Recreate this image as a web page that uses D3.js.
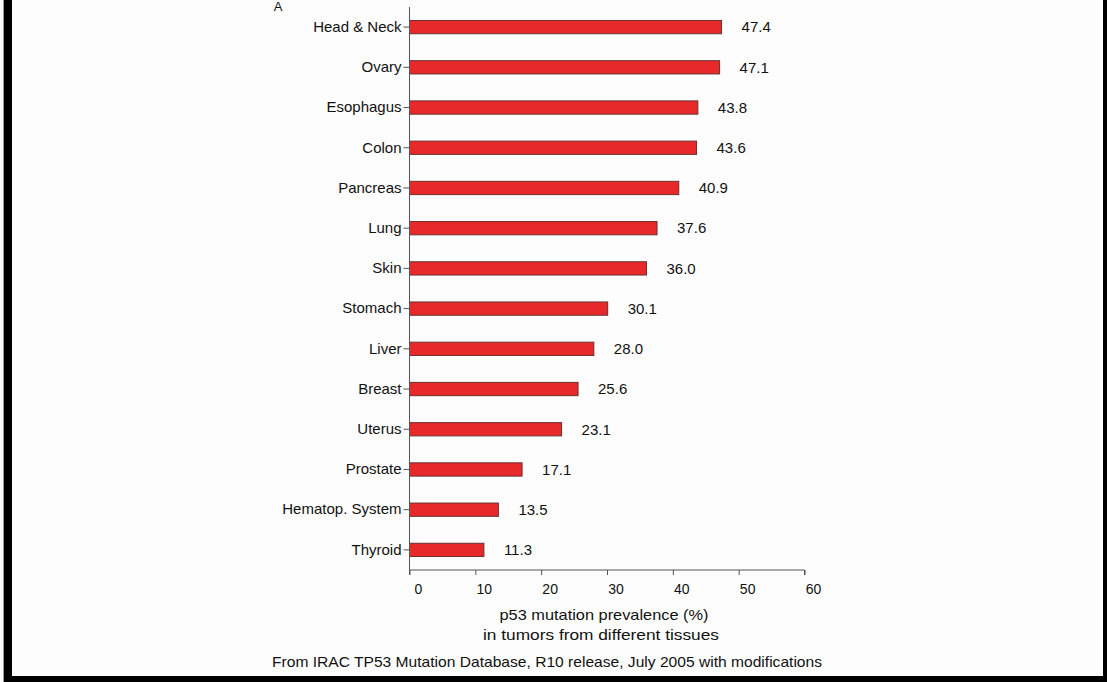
<!DOCTYPE html>
<html><head><meta charset="utf-8">
<script src="https://cdn.jsdelivr.net/npm/d3@7"></script>
<style>
html,body{margin:0;padding:0;background:#fff;}
svg{display:block;}
text{font-family:"Liberation Sans",Arial,sans-serif;fill:#111;}
</style></head>
<body>
<svg id="chart" width="1107" height="682"></svg>
<script>
const categories = ["Head & Neck","Ovary","Esophagus","Colon","Pancreas","Lung","Skin","Stomach","Liver","Breast","Uterus","Prostate","Hematop. System","Thyroid"];
const values = [47.4,47.1,43.8,43.6,40.9,37.6,36.0,30.1,28.0,25.6,23.1,17.1,13.5,11.3];
const xTicks = [0,10,20,30,40,50,60];
const panelLabel = "A";
const axisTitle = ["p53 mutation prevalence (%)","in tumors from different tissues"];
const sourceNote = "From IRAC TP53 Mutation Database, R10 release, July 2005 with modifications";

const svg = d3.select("#chart");
const W = 1107, H = 682;

// frame
svg.append("rect").attr("x",0).attr("y",0).attr("width",W).attr("height",H).attr("fill","#fdfdfd");
svg.append("rect").attr("x",3).attr("y",0).attr("width",1).attr("height",H).attr("fill","#999");
svg.append("rect").attr("x",4).attr("y",0).attr("width",8).attr("height",H).attr("fill","#000");
svg.append("rect").attr("x",1103).attr("y",0).attr("width",4).attr("height",H).attr("fill","#000");
svg.append("rect").attr("x",4).attr("y",676).attr("width",W-4).attr("height",6).attr("fill","#000");

const x = d3.scaleLinear().domain([0,60]).range([409.5,804.5]);
const y = d3.scaleBand().domain(categories).range([7,570]).paddingInner(0.67).paddingOuter(0.335);

// bars
svg.append("g").selectAll("rect").data(values).join("rect")
  .attr("x", x(0))
  .attr("y", (d,i)=>y(categories[i]))
  .attr("width", d=>x(d)-x(0))
  .attr("height", y.bandwidth())
  .attr("fill","#e8292a")
  .attr("stroke","#6a3030")
  .attr("stroke-width",1);

// value labels
svg.append("g").selectAll("text").data(values).join("text")
  .attr("x", d=>x(d)+20)
  .attr("y", (d,i)=>y(categories[i])+y.bandwidth()/2)
  .attr("dy","0.35em")
  .attr("font-size",15)
  .text(d=>d.toFixed(1));

// y axis
const yAxis = d3.axisLeft(y).tickSize(6).tickPadding(2);
const gy = svg.append("g").attr("transform",`translate(${x(0)},0)`).call(yAxis);
gy.select(".domain").attr("stroke","#555").attr("d",`M0,7V570`);
gy.selectAll(".tick line").attr("stroke","#555");
gy.selectAll(".tick text").attr("font-size",15).attr("font-family","Liberation Sans, Arial, sans-serif").attr("fill","#111");

// x axis
const xAxis = d3.axisBottom(x).tickValues(xTicks).tickSize(5).tickPadding(9).tickFormat(d3.format("d"));
const gx = svg.append("g").attr("transform","translate(0,570)").call(xAxis);
gx.select(".domain").attr("stroke","#555").attr("d",`M${x(0)},5V0H${x(60)}V5`);
gx.selectAll(".tick line").attr("stroke","#555");
gx.selectAll(".tick text").attr("font-size",14).attr("dx",8.5).attr("font-family","Liberation Sans, Arial, sans-serif").attr("fill","#111");

// panel label
svg.append("text").attr("x",278).attr("y",11).attr("text-anchor","middle").attr("font-size",13).text(panelLabel);

// axis titles
svg.append("text").attr("x",604).attr("y",620).attr("text-anchor","middle").attr("font-size",15)
  .attr("textLength",209).attr("lengthAdjust","spacingAndGlyphs").text(axisTitle[0]);
svg.append("text").attr("x",601).attr("y",640).attr("text-anchor","middle").attr("font-size",15)
  .attr("textLength",236).attr("lengthAdjust","spacingAndGlyphs").text(axisTitle[1]);
svg.append("text").attr("x",547).attr("y",667).attr("text-anchor","middle").attr("font-size",15)
  .attr("textLength",550).attr("lengthAdjust","spacingAndGlyphs").text(sourceNote);
</script>
</body></html>
